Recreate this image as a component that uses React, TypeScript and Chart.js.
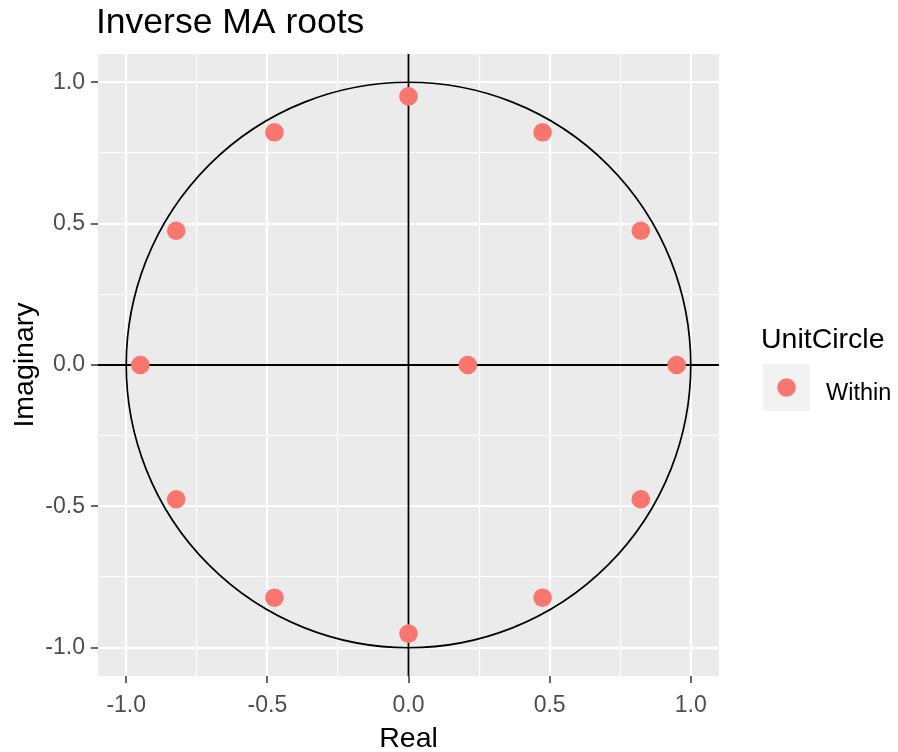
import React, { useEffect, useRef } from 'react';
import { Chart, registerables } from 'chart.js';

Chart.register(...registerables);

// ---- data ----
const realParts = [0.95, 0.823, 0.475, 0, -0.475, -0.823, -0.95, -0.823, -0.475, 0, 0.475, 0.823, 0.21];
const imagParts = [0, 0.475, 0.823, 0.95, 0.823, 0.475, 0, -0.475, -0.823, -0.95, -0.823, -0.475, 0];
const tickValues = [-1, -0.75, -0.5, -0.25, 0, 0.25, 0.5, 0.75, 1];
const axisMin = -1.1;
const axisMax = 1.1;
const unitRadius = 1;
const chartTitle = 'Inverse MA roots';
const xTitle = 'Real';
const yTitle = 'Imaginary';
const legendTitle = 'UnitCircle';
const legendLabel = 'Within';

const FONT = '"Liberation Sans", Arial, sans-serif';
const POINT_COLOR = '#F8766D';

const isMajor = (v: number) => Math.abs(v * 2 - Math.round(v * 2)) < 1e-6;

const decor = {
  id: 'decor',
  beforeDraw(chart: any) {
    const { ctx, chartArea: a } = chart;
    ctx.save();
    ctx.fillStyle = '#EBEBEB';
    ctx.fillRect(a.left, a.top, a.right - a.left, a.bottom - a.top);
    ctx.restore();
  },
  beforeDatasetsDraw(chart: any) {
    const { ctx, chartArea: a, scales } = chart;
    const x = scales.x;
    const y = scales.y;
    ctx.save();
    ctx.beginPath();
    ctx.rect(a.left, a.top, a.right - a.left, a.bottom - a.top);
    ctx.clip();
    ctx.strokeStyle = '#000000';
    ctx.lineWidth = 1.8;
    const x0 = x.getPixelForValue(0);
    const y0 = y.getPixelForValue(0);
    ctx.beginPath();
    ctx.moveTo(a.left, y0);
    ctx.lineTo(a.right, y0);
    ctx.stroke();
    ctx.beginPath();
    ctx.moveTo(x0, a.top);
    ctx.lineTo(x0, a.bottom);
    ctx.stroke();
    const rx = x.getPixelForValue(unitRadius) - x0;
    const ry = y0 - y.getPixelForValue(unitRadius);
    ctx.lineWidth = 1.7;
    ctx.beginPath();
    ctx.ellipse(x0, y0, rx, ry, 0, 0, Math.PI * 2);
    ctx.stroke();
    ctx.restore();
  },
  afterDraw(chart: any) {
    const { ctx, chartArea: a } = chart;
    ctx.save();
    // title
    ctx.fillStyle = '#000000';
    ctx.font = `35.5px ${FONT}`;
    ctx.textAlign = 'left';
    ctx.textBaseline = 'alphabetic';
    ctx.fillText(chartTitle, a.left - 2, 33);
    // axis titles
    ctx.font = `28.5px ${FONT}`;
    ctx.textAlign = 'center';
    ctx.fillText(xTitle, (a.left + a.right) / 2, 747);
    ctx.save();
    ctx.translate(33, (a.top + a.bottom) / 2);
    ctx.rotate(-Math.PI / 2);
    ctx.fillText(yTitle, 0, 0);
    ctx.restore();
    // legend
    ctx.textAlign = 'left';
    ctx.font = `28.5px ${FONT}`;
    ctx.fillText(legendTitle, 761, 348);
    ctx.fillStyle = '#F2F2F2';
    ctx.fillRect(763, 364, 47, 47);
    ctx.fillStyle = POINT_COLOR;
    ctx.beginPath();
    ctx.arc(786.5, 387.5, 9.3, 0, Math.PI * 2);
    ctx.fill();
    ctx.fillStyle = '#000000';
    ctx.font = `23.5px ${FONT}`;
    ctx.fillText(legendLabel, 826, 400);
    ctx.restore();
  },
};

export default function App() {
  const canvasRef = useRef<HTMLCanvasElement | null>(null);

  useEffect(() => {
    document.body.style.margin = '0';
    const canvas = canvasRef.current;
    if (!canvas) return;
    const points = realParts.map((re, i) => ({ x: re, y: imagParts[i] }));

    const axisCommon = (isX: boolean) => ({
      type: 'linear' as const,
      min: axisMin,
      max: axisMax,
      afterBuildTicks: (scale: any) => {
        scale.ticks = tickValues.map((v) => ({ value: v }));
      },
      afterFit: (scale: any) => {
        if (isX) scale.height = 76;
        else scale.width = 98;
      },
      border: { display: false },
      grid: {
        color: '#FFFFFF',
        lineWidth: (c: any) => (c.tick && isMajor(c.tick.value) ? 2 : 1.1),
        tickColor: (c: any) => (c.tick && isMajor(c.tick.value) ? '#333333' : 'rgba(0,0,0,0)'),
        tickWidth: 1.5,
        tickLength: 7,
        drawTicks: true,
      },
      ticks: {
        autoSkip: false,
        maxRotation: 0,
        minRotation: 0,
        padding: isX ? 9 : 6,
        color: '#4D4D4D',
        font: { family: FONT, size: 23 },
        callback: (v: any) => (isMajor(Number(v)) ? Number(v).toFixed(1) : ''),
      },
    });

    const chart = new Chart(canvas, {
      type: 'scatter',
      data: {
        datasets: [
          {
            label: legendLabel,
            data: points,
            backgroundColor: POINT_COLOR,
            borderWidth: 0,
            pointRadius: 9.3,
            pointHoverRadius: 9.3,
          },
        ],
      },
      options: {
        responsive: false,
        animation: false,
        devicePixelRatio: 1,
        layout: { padding: { top: 54, right: 179, bottom: 0, left: 0 } },
        plugins: {
          legend: { display: false },
          title: { display: false },
          tooltip: { enabled: false },
        },
        scales: {
          x: axisCommon(true),
          y: axisCommon(false),
        },
      } as any,
      plugins: [decor],
    });

    return () => chart.destroy();
  }, []);

  return (
    <div style={{ width: 898, height: 752, position: 'relative' }}>
      <canvas ref={canvasRef} width={898} height={752} style={{ display: 'block' }} />
    </div>
  );
}
